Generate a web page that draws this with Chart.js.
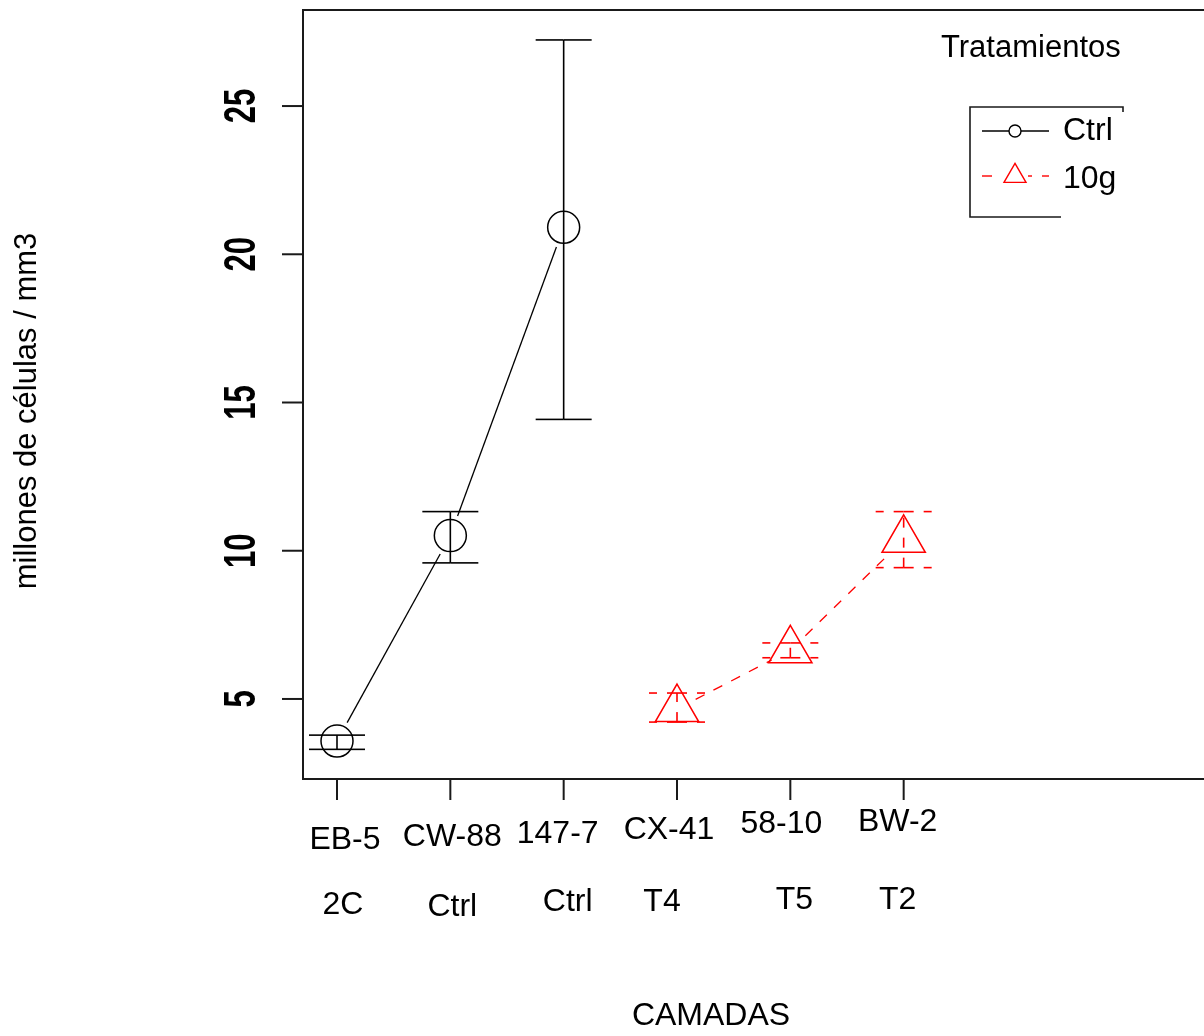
<!DOCTYPE html>
<html>
<head>
<meta charset="utf-8">
<script src="https://cdn.jsdelivr.net/npm/chart.js@4/dist/chart.umd.min.js"></script>
<style>
    html, body { margin: 0; padding: 0; background: #fff; overflow: hidden; }
    canvas { display: block; }
</style>
</head>
<body>
<canvas id="grafico" width="1204" height="1036"></canvas>
<script>
// Camadas y tratamiento de cada una
const camadas = ["EB-5", "CW-88", "147-7", "CX-41", "58-10", "BW-2"];
const grupos = ["2C", "Ctrl", "Ctrl", "T4", "T5", "T2"];

// Grupo control
const posCtrl = [1, 2, 3];
const mediaCtrl = [3.58, 10.51, 20.91];
const supCtrl = [3.78, 11.32, 27.23];
const infCtrl = [3.3, 9.59, 14.43];

// Grupo 10g
const pos10g = [4, 5, 6];
const media10g = [4.66, 6.64, 10.37];
const sup10g = [5.2, 6.89, 11.32];
const inf10g = [4.22, 6.39, 9.43];

const ticksY = [5, 10, 15, 20, 25];

// ajustes de la rotulacion del eje x (pixeles respecto a la marca)
const fila1 = { dx: [8, 2, -6, -8, -9, -6], dy: [61, 58, 55, 51, 45, 43] };
const fila2 = { dx: [6, 2, 4, -15, 4, -6], dy: [126, 128, 123, 123, 121, 121] };

const FUENTE = '"Liberation Sans", Arial, sans-serif';
const ROJO = "#ff0000";
const TINTA = "#1a1a1a";

function puntos(xs, ys) {
    return xs.map((x, i) => ({ x: x, y: ys[i] }));
}

function linea(ctx, x1, y1, x2, y2) {
    ctx.beginPath();
    ctx.moveTo(x1, y1);
    ctx.lineTo(x2, y2);
    ctx.stroke();
}

// lineas tipo "b": se cortan antes de llegar a cada simbolo
function unirPuntos(ctx, sx, sy, xs, ys, color, dash) {
    const hueco = 21;
    ctx.save();
    ctx.strokeStyle = color;
    ctx.lineWidth = 1.3;
    ctx.setLineDash(dash);
    for (let i = 0; i < xs.length - 1; i++) {
        const x0 = sx.getPixelForValue(xs[i]);
        const y0 = sy.getPixelForValue(ys[i]);
        const x1 = sx.getPixelForValue(xs[i + 1]);
        const y1 = sy.getPixelForValue(ys[i + 1]);
        const d = Math.hypot(x1 - x0, y1 - y0);
        const ux = (x1 - x0) / d;
        const uy = (y1 - y0) / d;
        linea(ctx, x0 + ux * hueco, y0 + uy * hueco, x1 - ux * hueco, y1 - uy * hueco);
    }
    ctx.restore();
}

function barrasError(ctx, sx, sy, xs, sup, inf, color, dash) {
    const ala = 28;
    ctx.save();
    ctx.strokeStyle = color;
    ctx.lineWidth = 1.6;
    ctx.setLineDash(dash);
    xs.forEach((x, i) => {
        const px = sx.getPixelForValue(x);
        const yInf = sy.getPixelForValue(inf[i]);
        const ySup = sy.getPixelForValue(sup[i]);
        linea(ctx, px, yInf, px, ySup);
        [ySup, yInf].forEach((py) => {
            linea(ctx, px, py, px - ala, py);
            linea(ctx, px, py, px + ala, py);
        });
    });
    ctx.restore();
}

function triangulo(ctx, x, y, r) {
    ctx.beginPath();
    ctx.moveTo(x, y - r);
    ctx.lineTo(x + r * Math.sin(2 * Math.PI / 3), y + r / 2);
    ctx.lineTo(x - r * Math.sin(2 * Math.PI / 3), y + r / 2);
    ctx.closePath();
    ctx.stroke();
}

const dibujoR = {
    id: "dibujoR",
    beforeDatasetsDraw(chart) {
        const ctx = chart.ctx;
        const sx = chart.scales.x;
        const sy = chart.scales.y;
        unirPuntos(ctx, sx, sy, posCtrl, mediaCtrl, "#000", []);
        unirPuntos(ctx, sx, sy, pos10g, media10g, ROJO, [10, 10]);
        barrasError(ctx, sx, sy, posCtrl, supCtrl, infCtrl, "#000", []);
        barrasError(ctx, sx, sy, pos10g, sup10g, inf10g, ROJO, [10, 10]);
    },
    afterDraw(chart) {
        const ctx = chart.ctx;
        const area = chart.chartArea;
        const sx = chart.scales.x;
        const sy = chart.scales.y;

        // marco (el lado derecho queda fuera del lienzo)
        ctx.save();
        ctx.strokeStyle = TINTA;
        ctx.lineWidth = 2;
        ctx.beginPath();
        ctx.moveTo(area.right + 2, area.top);
        ctx.lineTo(area.left, area.top);
        ctx.lineTo(area.left, area.bottom);
        ctx.lineTo(area.right + 2, area.bottom);
        ctx.stroke();

        // eje y
        ctx.fillStyle = "#000";
        ticksY.forEach((v) => {
            const y = sy.getPixelForValue(v);
            linea(ctx, area.left - 21, y, area.left, y);
            ctx.save();
            ctx.translate(area.left - 60, y);
            ctx.rotate(-Math.PI / 2);
            ctx.scale(1, 1.45);
            ctx.font = "bold 31px " + FUENTE;
            ctx.textAlign = "center";
            ctx.textBaseline = "middle";
            ctx.fillText(String(v), 0, 0);
            ctx.restore();
        });

        // eje x
        ctx.font = "32px " + FUENTE;
        ctx.textAlign = "center";
        ctx.textBaseline = "middle";
        camadas.forEach((c, i) => {
            const x = sx.getPixelForValue(i + 1);
            linea(ctx, x, area.bottom, x, area.bottom + 21);
            ctx.fillText(c, x + fila1.dx[i], area.bottom + fila1.dy[i]);
            ctx.fillText(grupos[i], x + fila2.dx[i], area.bottom + fila2.dy[i]);
        });

        // titulos
        ctx.fillText("CAMADAS", 711, 1016);
        ctx.save();
        ctx.translate(27, 411);
        ctx.rotate(-Math.PI / 2);
        ctx.font = "31px " + FUENTE;
        ctx.fillText("millones de células / mm3", 0, 0);
        ctx.restore();

        // leyenda
        ctx.textAlign = "left";
        ctx.font = "31px " + FUENTE;
        ctx.fillText("Tratamientos", 941, 48);
        ctx.lineWidth = 1.6;
        ctx.beginPath();
        ctx.moveTo(1123, 112);
        ctx.lineTo(1123, 107);
        ctx.lineTo(970, 107);
        ctx.lineTo(970, 217);
        ctx.lineTo(1061, 217);
        ctx.stroke();

        const items = chart.data.datasets;
        const filas = [131, 176];
        items.forEach((ds, i) => {
            const y = filas[i];
            ctx.save();
            ctx.strokeStyle = ds.borderColor;
            ctx.lineWidth = 1.4;
            ctx.setLineDash(i === 0 ? [] : [10, 10]);
            linea(ctx, 982, y, 1049, y);
            ctx.setLineDash([]);
            if (ds.pointStyle === "circle") {
                ctx.fillStyle = "#fff";
                ctx.beginPath();
                ctx.arc(1015, y, 6, 0, Math.PI * 2);
                ctx.fill();
                ctx.stroke();
            } else {
                ctx.fillStyle = "#fff";
                ctx.fillRect(1002, y - 14, 26, 22);
                triangulo(ctx, 1015, y, 12.7);
            }
            ctx.restore();
            ctx.fillStyle = "#000";
            ctx.font = "32px " + FUENTE;
            ctx.fillText(ds.label, 1063, i === 0 ? 131 : 179);
        });
        ctx.restore();
    },
};

new Chart(document.getElementById("grafico"), {
    type: "scatter",
    data: {
        datasets: [
            {
                label: "Ctrl",
                data: puntos(posCtrl, mediaCtrl),
                pointStyle: "circle",
                pointRadius: 16,
                borderColor: "#000",
                backgroundColor: "rgba(0,0,0,0)",
                pointBorderWidth: 1.5,
                showLine: false,
            },
            {
                label: "10g",
                data: puntos(pos10g, media10g),
                pointStyle: "triangle",
                pointRadius: 25,
                borderColor: ROJO,
                backgroundColor: "rgba(0,0,0,0)",
                pointBorderWidth: 1.5,
                showLine: false,
            },
        ],
    },
    options: {
        responsive: false,
        animation: false,
        devicePixelRatio: 1,
        events: [],
        layout: {
            autoPadding: false,
            padding: { left: 303, top: 10, right: 0, bottom: 257 },
        },
        scales: {
            x: { type: "linear", min: 0.7, max: 8.65, display: false },
            y: { type: "linear", min: 2.3, max: 28.24, display: false },
        },
        plugins: {
            legend: { display: false },
            tooltip: { enabled: false },
        },
    },
    plugins: [dibujoR],
});
</script>
</body>
</html>
